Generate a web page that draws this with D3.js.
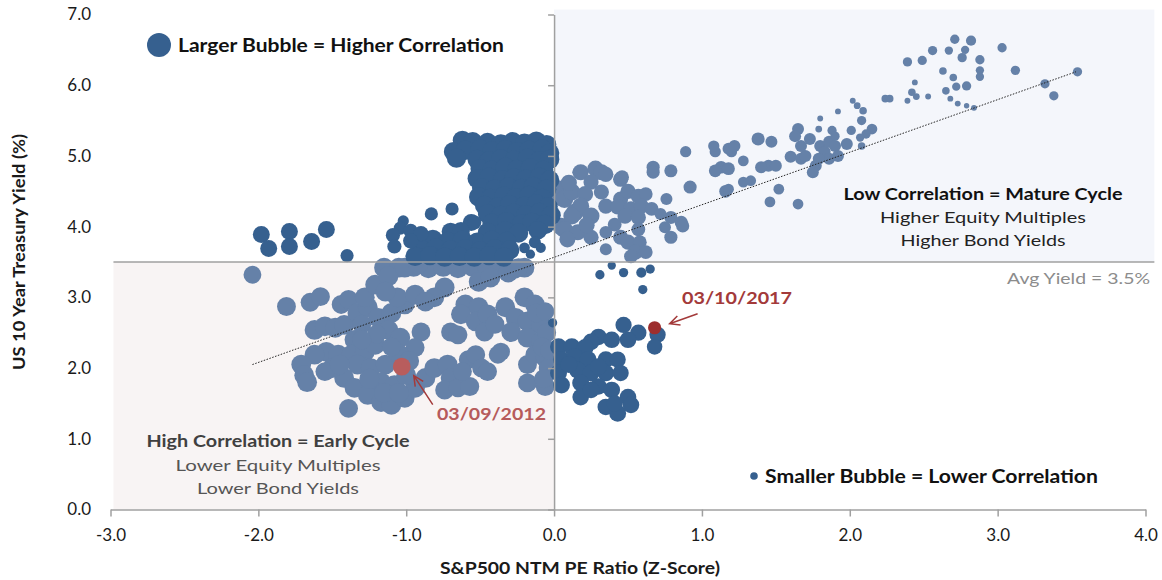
<!DOCTYPE html>
<html><head><meta charset="utf-8">
<script src="https://cdn.jsdelivr.net/npm/d3@7"></script>
<style>body{margin:0;background:#fff;} svg{display:block;font-family:Lato,"Open Sans",sans-serif;}</style>
</head><body><svg id="chart" width="1162" height="580"></svg>
<script>
// ---------- data ----------
const xTicks = [-3, -2, -1, 0, 1, 2, 3, 4];
const yTicks = [0, 1, 2, 3, 4, 5, 6, 7];
const avgYield = 3.5;
const trendX = [-2.04, 3.53];
const trendY = [2.05, 6.19];

// [PE z-score, 10y yield, correlation weight] - darker series
const darkPoints = [
 [-0.62,5.22,0.65],[-0.55,5.2,0.65],[-0.45,5.19,0.65],[-0.36,5.17,0.65],[-0.28,5.2,0.65],[-0.2,5.18,0.65],[-0.12,5.21,0.65],[-0.05,5.16,0.65],
 [-0.68,5.06,0.65],[-0.6,5.08,0.65],[-0.5,5.1,0.65],[-0.42,5.07,0.65],[-0.33,5.09,0.65],[-0.25,5.06,0.65],[-0.17,5.08,0.65],[-0.08,5.1,0.65],[-0.03,5.04,0.65],
 [-0.66,4.97,0.65],[-0.52,4.95,0.65],[-0.44,4.93,0.65],[-0.36,4.96,0.65],[-0.27,4.94,0.65],[-0.18,4.97,0.65],[-0.1,4.93,0.65],[-0.03,4.95,0.65],
 [-0.5,4.82,0.65],[-0.42,4.8,0.65],[-0.33,4.84,0.65],[-0.25,4.81,0.65],[-0.16,4.83,0.65],[-0.07,4.8,0.65],
 [-0.52,4.68,0.65],[-0.44,4.7,0.65],[-0.35,4.66,0.65],[-0.27,4.69,0.65],[-0.19,4.67,0.65],[-0.1,4.7,0.65],[-0.03,4.66,0.65],
 [-0.49,4.55,0.65],[-0.4,4.53,0.65],[-0.31,4.56,0.65],[-0.22,4.54,0.65],[-0.14,4.57,0.65],[-0.05,4.53,0.65],
 [-0.51,4.42,0.65],[-0.43,4.4,0.65],[-0.34,4.43,0.65],[-0.26,4.41,0.65],[-0.17,4.44,0.65],[-0.08,4.4,0.65],
 [-0.47,4.3,0.65],[-0.38,4.28,0.65],[-0.3,4.31,0.65],[-0.2,4.29,0.65],[-0.12,4.32,0.65],[-0.04,4.28,0.65],
 [-0.45,4.18,0.65],[-0.36,4.16,0.65],[-0.27,4.19,0.65],[-0.19,4.17,0.65],[-0.1,4.2,0.65],[-0.02,4.16,0.65],
 [-0.56,4.06,0.5],[-0.42,4.05,0.65],[-0.32,4.07,0.65],[-0.22,4.04,0.65],[-0.15,4.06,0.65],[-0.06,4.03,0.65],
 [-0.7,3.93,0.55],[-0.63,3.94,0.55],[-0.45,3.92,0.65],[-0.33,3.94,0.65],[-0.24,3.91,0.65],[-0.11,3.95,0.6],
 [-0.92,3.8,0.65],[-0.82,3.82,0.65],[-0.72,3.79,0.65],[-0.62,3.81,0.65],[-0.52,3.78,0.65],[-0.42,3.81,0.65],[-0.32,3.79,0.65],
 [-0.9,3.68,0.65],[-0.8,3.7,0.65],[-0.7,3.67,0.65],[-0.6,3.69,0.65],[-0.5,3.66,0.65],[-0.4,3.69,0.65],[-0.3,3.67,0.65],
 [-0.94,3.58,0.65],[-0.84,3.59,0.65],[-0.74,3.57,0.65],[-0.64,3.58,0.65],[-0.54,3.57,0.65],[-0.44,3.59,0.65],[-0.34,3.57,0.65],
 [-1.98,3.89,0.5],[-1.93,3.69,0.5],[-1.79,3.93,0.5],[-1.79,3.72,0.5],[-1.64,3.79,0.5],[-1.54,3.96,0.5],[-1.4,3.59,0.3],
 [-1.02,4.08,0.22],[-1.04,3.98,0.3],[-1.09,3.88,0.35],[-0.97,3.94,0.35],[-0.9,3.9,0.4],[-1.08,3.72,0.35],[-0.97,3.8,0.4],
 [-0.83,4.18,0.3],[-0.69,4.25,0.3],[-0.54,4.06,0.35],
 [-0.2,3.7,0.2],[-0.13,3.78,0.25],[-0.16,3.61,0.15],[-0.09,3.7,0.18],
 [0.39,3.45,0.12],[0.31,3.32,0.15],[0.47,3.35,0.15],[0.59,3.35,0.18],[0.65,3.4,0.15],[0.6,3.11,0.15],
 [-0.01,2.64,0.15],[0.47,2.61,0.46],[0.57,2.5,0.46],[0.7,2.47,0.46],[0.68,2.3,0.42],
 [0.3,2.44,0.48],[0.25,2.37,0.48],[0.39,2.4,0.48],[0.5,2.4,0.48],
 [0.03,2.3,0.5],[0.12,2.3,0.5],[0.21,2.29,0.5],
 [0.05,2.12,0.5],[0.14,2.16,0.5],[0.23,2.12,0.5],[0.35,2.12,0.48],[0.43,2.12,0.46],
 [0.03,1.93,0.5],[0.16,1.97,0.5],[0.25,1.93,0.5],[0.35,1.93,0.48],[0.45,1.93,0.46],
 [0.05,1.76,0.5],[0.18,1.79,0.5],[0.3,1.74,0.48],[0.39,1.69,0.48],
 [0.18,1.59,0.48],[0.25,1.69,0.48],[0.1,2.05,0.5],[0.3,2.02,0.48],
 [0.35,1.45,0.48],[0.43,1.36,0.5],[0.5,1.59,0.48],[0.52,1.48,0.48],[0.41,1.5,0.46]
];

// lighter series
const lightPoints = [
 [0.03,4.43,0.6],[0.14,4.2,0.55],[0.05,4.0,0.55],[0.16,4.77,0.2],[0.03,4.53,0.55],[0.07,4.39,0.55],[0.12,4.49,0.5],
 [0.18,4.77,0.45],[0.28,4.82,0.45],[0.32,4.77,0.45],[0.25,4.63,0.4],[0.32,4.49,0.4],[0.21,4.46,0.45],[0.45,4.67,0.4],
 [0.35,4.29,0.4],[0.18,4.29,0.5],[0.25,4.15,0.5],[0.12,4.15,0.5],[0.07,3.96,0.5],[0.16,3.92,0.45],[0.09,3.82,0.45],
 [0.25,3.85,0.4],[0.45,4.39,0.4],[0.5,4.5,0.4],[0.57,4.43,0.4],[0.62,4.46,0.33],[0.43,4.28,0.4],[0.52,4.25,0.4],
 [0.59,4.29,0.4],[0.66,4.25,0.33],[0.48,4.15,0.4],[0.57,4.13,0.4],[0.41,4.03,0.33],[0.35,3.92,0.28],[0.45,3.85,0.4],
 [0.5,3.78,0.4],[0.57,3.96,0.33],[0.58,3.78,0.33],[0.55,3.64,0.4],[0.62,3.64,0.33],[0.35,3.68,0.25],[0.35,4.74,0.4],
 [0.46,4.7,0.33],[0.52,3.58,0.33],[0.1,4.62,0.45],[0.22,4.02,0.45],
 [0.67,4.84,0.3],[0.67,4.77,0.3],[0.79,4.79,0.3],[0.92,4.56,0.3],[0.76,4.39,0.25],[0.72,4.18,0.25],[0.79,4.13,0.3],
 [0.86,4.06,0.3],[0.87,4.01,0.3],[0.75,3.99,0.25],[0.79,3.85,0.3],[0.89,5.06,0.22],[1.09,5.06,0.22],[1.2,5.06,0.22],
 [1.13,4.84,0.28],[1.18,4.82,0.28],[1.09,4.79,0.28],[1.16,4.5,0.28],[1.08,5.14,0.22],
 [1.18,5.1,0.25],[1.22,5.14,0.25],[1.28,4.93,0.2],[1.38,5.24,0.3],[1.47,5.2,0.25],[1.45,4.86,0.25],[1.5,4.86,0.25],
 [1.4,4.84,0.25],[1.28,4.63,0.2],[1.33,4.65,0.2],[1.52,4.53,0.2],[1.46,4.35,0.2],[1.65,4.32,0.2],[1.18,4.53,0.2],
 [1.65,5.38,0.25],[1.63,5.28,0.25],[1.6,4.99,0.25],[1.67,4.96,0.25],[1.7,5.0,0.25],[1.77,4.86,0.25],[1.75,4.77,0.25],
 [1.67,5.14,0.25],[1.79,5.38,0.08],[1.73,5.24,0.25],[1.8,5.14,0.25],[1.83,5.06,0.25],[1.86,5.2,0.25],[1.9,5.14,0.25],
 [1.86,4.96,0.25],[1.92,5.0,0.25],[1.98,5.17,0.25],[1.79,4.96,0.25],
 [1.88,5.36,0.15],[1.9,5.28,0.15],[1.8,5.53,0.06],[1.92,5.63,0.06],[2.01,5.36,0.15],[2.05,5.71,0.08],[2.09,5.64,0.1],
 [2.08,5.5,0.15],[2.15,5.38,0.2],[2.11,5.31,0.15],[2.08,5.14,0.1],[2.02,5.78,0.06],[2.07,5.26,0.12],
 [2.24,5.81,0.1],[2.27,5.81,0.1],[2.39,5.78,0.06],[2.45,5.84,0.08],[2.53,5.84,0.06],[2.42,5.9,0.1],[2.44,6.04,0.06],
 [2.39,6.33,0.15],[2.49,6.35,0.15],[2.56,6.49,0.15],[2.67,6.49,0.12],[2.71,6.65,0.15],[2.82,6.63,0.18],[2.78,6.5,0.12],
 [2.76,6.39,0.15],[2.88,6.36,0.15],[3.03,6.53,0.15],[3.12,6.21,0.15],
 [2.63,6.2,0.1],[2.7,6.11,0.1],[2.88,6.21,0.12],[2.88,6.12,0.12],[2.79,5.99,0.15],[2.72,5.98,0.12],[2.65,5.92,0.1],
 [2.68,5.81,0.06],[2.73,5.74,0.06],[2.79,5.71,0.05],[2.84,5.68,0.06],
 [3.32,6.02,0.15],[3.38,5.85,0.15],[3.54,6.19,0.15],
 [-1.15,3.42,0.68],[-1.05,3.42,0.68],[-0.95,3.43,0.68],[-0.85,3.41,0.68],[-0.75,3.43,0.68],[-0.65,3.41,0.68],
 [-0.55,3.43,0.68],[-0.45,3.41,0.68],[-0.35,3.42,0.68],[-0.27,3.4,0.68],[-0.2,3.42,0.68],
 [-0.51,3.22,0.68],[-0.43,3.28,0.68],[-0.31,3.35,0.68],[-0.24,3.42,0.62],[-0.74,3.14,0.68],[-0.81,3.0,0.68],
 [-2.04,3.32,0.55],[-1.81,2.87,0.62],[-1.65,2.93,0.62],[-1.58,3.01,0.62],[-1.44,2.9,0.62],[-1.39,2.97,0.62],
 [-1.62,2.54,0.68],[-1.55,2.59,0.68],[-1.48,2.57,0.68],[-1.42,2.61,0.68],
 [-1.33,2.78,0.68],[-1.26,2.86,0.68],[-1.28,3.0,0.68],[-1.21,3.18,0.68],[-1.12,3.3,0.68],[-1.01,3.42,0.68],[-0.92,3.47,0.68],
 [-1.19,2.71,0.68],[-1.1,2.78,0.68],[-1.01,2.9,0.68],[-1.06,3.0,0.68],[-0.94,3.04,0.68],[-0.87,2.94,0.68],[-1.14,3.08,0.68],
 [-1.12,2.54,0.68],[-1.04,2.43,0.68],[-0.9,2.51,0.62],
 [-1.35,2.4,0.68],[-1.54,2.23,0.68],[-1.62,2.19,0.68],[-1.71,2.05,0.68],[-1.69,1.9,0.68],[-1.67,1.8,0.68],
 [-1.46,2.19,0.68],[-1.37,2.19,0.68],[-1.28,2.23,0.68],[-1.21,2.33,0.68],
 [-1.42,1.86,0.68],[-1.35,1.72,0.68],[-1.26,1.62,0.68],[-1.17,1.52,0.68],[-1.1,1.48,0.68],[-1.01,1.58,0.68],
 [-0.94,1.72,0.68],[-0.87,1.86,0.68],[-0.81,2.0,0.68],[-1.39,1.43,0.62],
 [-1.33,2.05,0.68],[-1.24,2.0,0.68],[-1.14,2.05,0.68],[-1.17,1.8,0.68],[-1.08,1.76,0.68],[-0.94,2.29,0.62],
 [-1.5,2.0,0.68],[-1.25,1.85,0.68],[-1.0,1.9,0.68],[-1.05,2.2,0.68],[-0.98,2.1,0.68],[-1.55,1.95,0.62],
 [-1.3,2.62,0.62],[-1.2,2.48,0.62],[-1.3,2.4,0.62],[-1.1,2.3,0.62],[-1.45,2.05,0.68],[-1.15,1.65,0.68],[-1.05,1.65,0.68],
 [-0.6,2.9,0.68],[-0.51,2.86,0.68],[-0.63,2.76,0.68],[-0.53,2.66,0.68],[-0.45,2.76,0.68],[-0.47,2.51,0.62],
 [-0.33,2.86,0.68],[-0.2,3.0,0.68],[-0.13,2.9,0.68],[-0.26,2.71,0.68],[-0.18,2.66,0.68],[-0.09,2.61,0.68],
 [-0.29,2.51,0.68],[-0.18,2.43,0.68],[-0.09,2.37,0.68],[-0.4,2.62,0.62],[-0.12,2.78,0.62],
 [-0.7,2.51,0.62],[-0.65,2.47,0.62],[-0.36,2.23,0.58],[-0.38,2.19,0.58],[-0.58,2.12,0.62],[-0.53,2.19,0.62],
 [-0.49,2.0,0.62],[-0.45,1.95,0.62],[-0.18,2.05,0.62],[-0.13,2.19,0.62],[-0.06,2.14,0.62],[-0.18,1.79,0.62],[-0.06,1.74,0.62],
 [-0.72,2.05,0.68],[-0.7,1.86,0.68],[-0.74,1.69,0.62],[-0.65,1.72,0.62],[-0.57,1.74,0.62],[-0.62,1.95,0.62],
 [-0.06,2.8,0.58],[-0.05,2.5,0.62],[-0.08,2.3,0.62],[-0.04,2.0,0.62],[-0.07,1.85,0.62],[-0.03,2.25,0.62]
];

const point2012 = [-1.03, 2.02, 0.55];
const point2017 = [0.68, 2.57, 0.3];
const legendCorr = [1.0, 0.1];

// ---------- chart ----------
const svg = d3.select("#chart");
const x = d3.scaleLinear().domain([-3, 4]).range([110.5, 1145.5]);
const y = d3.scaleLinear().domain([0, 7]).range([509.5, 14.5]);
const r = d3.scaleSqrt().domain([0, 1]).range([0, 12]);
const DARK = "#36608f", LIGHT = "#6581a8";

svg.append("rect").attr("x", x(0)).attr("y", y(7.07)).attr("width", x(4.06) - x(0))
  .attr("height", y(avgYield) - y(7.07)).attr("fill", "#f4f6fb");
svg.append("rect").attr("x", x(-2.98)).attr("y", y(avgYield)).attr("width", x(0) - x(-2.98))
  .attr("height", y(0) - y(avgYield)).attr("fill", "#f8f4f4");

function bubbles(data, color) {
  svg.append("g").selectAll("circle").data(data).join("circle")
    .attr("cx", d => x(d[0])).attr("cy", d => y(d[1])).attr("r", d => r(d[2]))
    .attr("fill", color);
}
bubbles(lightPoints, LIGHT);
bubbles(darkPoints, DARK);

// trend line
svg.append("line").attr("x1", x(trendX[0])).attr("y1", y(trendY[0]))
  .attr("x2", x(trendX[1])).attr("y2", y(trendY[1]))
  .attr("stroke", "#222").attr("stroke-width", 1).attr("stroke-dasharray", "1.5,1.5");

// avg line
svg.append("line").attr("x1", x(-2.98)).attr("x2", x(4.06)).attr("y1", y(avgYield)).attr("y2", y(avgYield))
  .attr("stroke", "#a0a0a0").attr("stroke-width", 1.5);

// highlights
svg.append("circle").attr("cx", x(point2012[0])).attr("cy", y(point2012[1])).attr("r", r(point2012[2])).attr("fill", "#b85d5d");
svg.append("circle").attr("cx", x(point2017[0])).attr("cy", y(point2017[1])).attr("r", r(point2017[2])).attr("fill", "#9d2e2e");

// axes
const fmt = d => d.toFixed(1);
const gx = svg.append("g").attr("transform", `translate(0,${y(0)})`)
  .call(d3.axisBottom(x).tickValues(xTicks).tickFormat(fmt).tickSize(7).tickSizeOuter(0).tickPadding(12));
const gy = svg.append("g").attr("transform", `translate(${x(0)},0)`)
  .call(d3.axisLeft(y).tickValues(yTicks).tickFormat(fmt).tickSize(6).tickSizeOuter(0));
[gx, gy].forEach(g => {
  g.select(".domain").attr("stroke", "#a0a0a0").attr("stroke-width", 1.5);
  g.selectAll(".tick line").attr("stroke", "#a0a0a0").attr("stroke-width", 1.5);
  g.selectAll("text").attr("fill", "#1a1a1a").style("font-size", "17px").style("font-family", "Lato");
});
gy.selectAll("text").attr("x", 91 - x(0));

// axis titles
svg.append("text").attr("x", 580).attr("y", 574).attr("text-anchor", "middle")
  .attr("textLength", 280).attr("lengthAdjust", "spacingAndGlyphs")
  .style("font-weight", "bold").style("font-size", "17.5px").attr("fill", "#1a1a1a")
  .text("S&P500 NTM PE Ratio (Z-Score)");
svg.append("text").attr("transform", "translate(25,252) rotate(-90)").attr("text-anchor", "middle")
  .attr("textLength", 236).attr("lengthAdjust", "spacingAndGlyphs")
  .style("font-weight", "bold").style("font-size", "17.5px").attr("fill", "#1a1a1a")
  .text("US 10 Year Treasury Yield (%)");

// legend
svg.append("circle").attr("cx", 159).attr("cy", 45).attr("r", r(legendCorr[0])).attr("fill", DARK);
svg.append("text").attr("x", 178).attr("y", 52).attr("textLength", 326).attr("lengthAdjust", "spacingAndGlyphs")
  .style("font-weight", "bold").style("font-size", "18px").attr("fill", "#111").text("Larger Bubble = Higher Correlation");
svg.append("circle").attr("cx", 754).attr("cy", 476).attr("r", r(legendCorr[1])).attr("fill", DARK);
svg.append("text").attr("x", 765).attr("y", 483).attr("textLength", 333).attr("lengthAdjust", "spacingAndGlyphs")
  .style("font-weight", "bold").style("font-size", "18px").attr("fill", "#111").text("Smaller Bubble = Lower Correlation");

function label(txt, cx, by, w, size, weight, color) {
  svg.append("text").attr("x", cx).attr("y", by).attr("text-anchor", "middle")
    .attr("textLength", w).attr("lengthAdjust", "spacingAndGlyphs")
    .style("font-weight", weight).style("font-size", size + "px").attr("fill", color).text(txt);
}
label("Low Correlation = Mature Cycle", 983, 200, 279, 17, "bold", "#111");
label("Higher Equity Multiples", 983, 223, 206, 16, "normal", "#222");
label("Higher Bond Yields", 983, 246, 165, 16, "normal", "#222");
label("High Correlation = Early Cycle", 278, 447, 263, 17, "bold", "#404040");
label("Lower Equity Multiples", 278, 471, 205, 16, "normal", "#555");
label("Lower Bond Yields", 278, 494, 162, 16, "normal", "#555");
svg.append("text").attr("x", 1150).attr("y", 284).attr("text-anchor", "end")
  .attr("textLength", 143).attr("lengthAdjust", "spacingAndGlyphs")
  .style("font-size", "16px").attr("fill", "#8c8c8c").text("Avg Yield = 3.5%");

// date annotations
svg.append("text").attr("x", 437).attr("y", 420).attr("textLength", 109).attr("lengthAdjust", "spacingAndGlyphs")
  .style("font-weight", "bold").style("font-size", "17px").attr("fill", "#b65b5b").text("03/09/2012");
svg.append("text").attr("x", 682).attr("y", 304).attr("textLength", 110).attr("lengthAdjust", "spacingAndGlyphs")
  .style("font-weight", "bold").style("font-size", "17px").attr("fill", "#a33a3a").text("03/10/2017");

function arrow(x1, y1, x2, y2, color) {
  const a = Math.atan2(y2 - y1, x2 - x1), L = 11, s = 0.45;
  const p = `M${x1},${y1}L${x2},${y2}M${x2 - L * Math.cos(a - s)},${y2 - L * Math.sin(a - s)}L${x2},${y2}L${x2 - L * Math.cos(a + s)},${y2 - L * Math.sin(a + s)}`;
  svg.append("path").attr("d", p).attr("fill", "none").attr("stroke", color).attr("stroke-width", 1.5);
}
arrow(x(point2012[0]) + 31, y(point2012[1]) + 38, x(point2012[0]) + 12, y(point2012[1]) + 9, "#a33a3a");
arrow(x(point2017[0]) + 43, y(point2017[1]) - 14, x(point2017[0]) + 15, y(point2017[1]) - 4, "#a33a3a");
</script></body></html>
